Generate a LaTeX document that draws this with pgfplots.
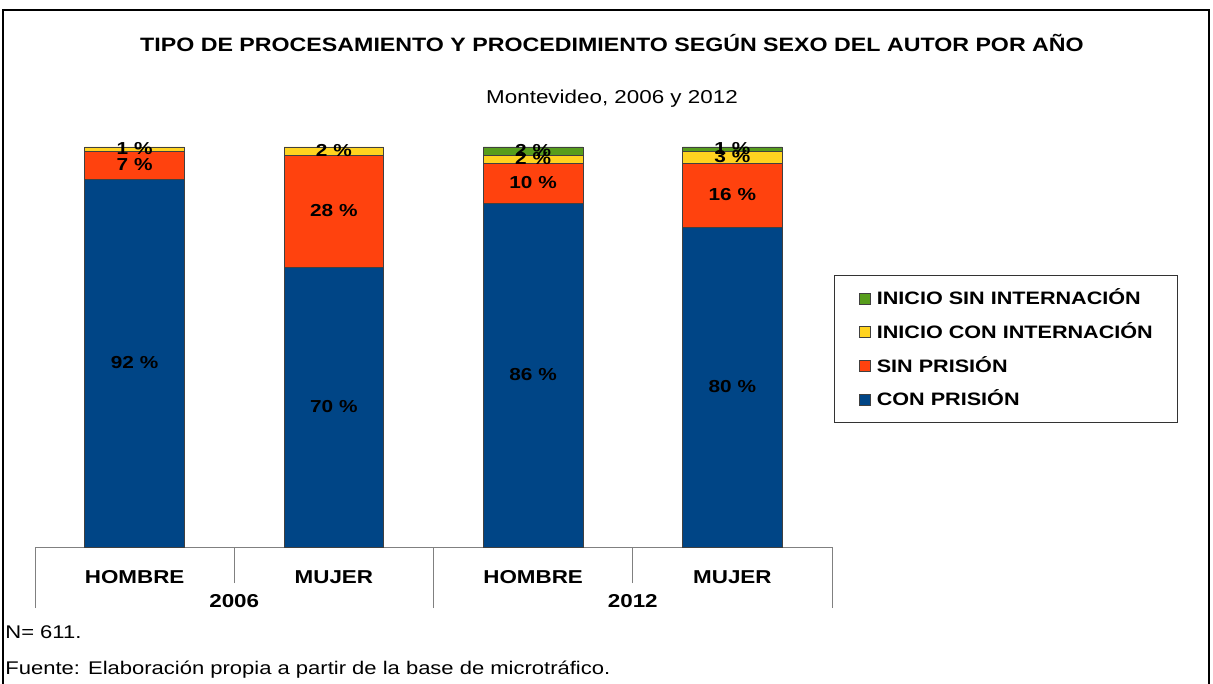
\documentclass[border=0pt]{standalone}
\usepackage{fontspec}
\setmainfont{Liberation Sans}[FakeStretch=1.2]
\usepackage{pgfplots}
\pgfplotsset{compat=1.18}
\definecolor{cblue}{HTML}{004586}
\definecolor{cred}{HTML}{FF420E}
\definecolor{cyel}{HTML}{FFD320}
\definecolor{cgreen}{HTML}{579D1C}
\newcommand\fs[1]{\fontsize{#1}{#1}\selectfont}
\pgfplotsset{sq/.style={legend image code/.code={%
  \draw[##1, draw=black!75, line width=0.5pt] (0pt,-4.125pt) rectangle (8.25pt,4.125pt);
  \path (12.75pt,0pt);}}}
\begin{document}
\begin{tikzpicture}
\path[use as bounding box] (0,0) rectangle (909.75pt,-513pt);
\draw[line width=1.5pt] (2.25pt,-513pt) -- (2.25pt,-7.5pt) -- (906.75pt,-7.5pt) -- (906.75pt,-513pt);
\node[anchor=base, font=\fs{14.5}\bfseries, inner sep=0pt] at (459pt,-39pt) {TIPO DE PROCESAMIENTO Y PROCEDIMIENTO SEGÚN SEXO DEL AUTOR POR AÑO};
\node[anchor=base, font=\fs{14}, inner sep=0pt] at (459pt,-78pt) {Montevideo, 2006 y 2012};
\node[anchor=base west, font=\fs{13.75}] at (0.5pt,-478.5pt) {N= 611.};
\node[anchor=base west, font=\fs{13.75}] at (0.5pt,-505.5pt) {Fuente: Elaboración propia a partir de la base de microtráfico.};
\begin{axis}[
  at={(26.25pt,-410.25pt)}, anchor=south west,
  scale only axis, width=597.75pt, height=300pt,
  ybar stacked, bar width=0.5,
  xmin=-0.5, xmax=3.5, ymin=0, ymax=100,
  clip=false,
  axis y line=none, axis x line*=bottom,
  axis line style={gray, line width=0.75pt},
  ytick=\empty,
  xtick={0,1,2,3}, xticklabels={HOMBRE,MUJER,HOMBRE,MUJER},
  major tick length=0pt,
  minor xtick={0.5,2.5}, minor tick length=27pt,
  extra x ticks={-0.5,1.5,3.5}, extra x tick labels={},
  extra x tick style={major tick length=45.75pt},
  tick align=outside,
  every tick/.style={gray, line width=0.75pt},
  xticklabel style={font=\fs{14}\bfseries, anchor=base, yshift=-27pt},
  visualization depends on=rawy \as \rawy,
  nodes near coords={\pgfmathparse{\rawy>0}\ifnum\pgfmathresult=1 \pgfmathprintnumber[assume math mode=true]{\rawy} \%\fi},
  every node near coord/.append style={anchor=center, font=\fs{13}\bfseries, text=black},
  reverse legend,
  legend style={at={(1.0025,0.68)}, anchor=north west, draw=black!80, line width=0.75pt,
     font=\fs{13.5}\bfseries, inner xsep=18.5pt, inner ysep=12.5pt, row sep=15.75pt,
     nodes={inner xsep=0pt, inner ysep=0pt, text height=9.5pt, text depth=0pt},
     cells={anchor=west}},
]
\addplot[fill=cblue, draw=black!75, line width=0.5pt, sq] coordinates {(0,92) (1,70) (2,86) (3,80)};
\addplot[fill=cred, draw=black!75, line width=0.5pt, sq] coordinates {(0,7) (1,28) (2,10) (3,16)};
\addplot[fill=cyel, draw=black!75, line width=0.5pt, sq] coordinates {(0,1) (1,2) (2,2) (3,3)};
\addplot[fill=cgreen, draw=black!75, line width=0.5pt, sq] coordinates {(0,0) (1,0) (2,2) (3,1)};
\legend{CON PRISIÓN, SIN PRISIÓN, INICIO CON INTERNACIÓN, INICIO SIN INTERNACIÓN}
\node[anchor=base, font=\fs{14}\bfseries] at (axis cs:0.5,0) [yshift=-45pt] {2006};
\node[anchor=base, font=\fs{14}\bfseries] at (axis cs:2.5,0) [yshift=-45pt] {2012};
\end{axis}
\end{tikzpicture}
\end{document}
